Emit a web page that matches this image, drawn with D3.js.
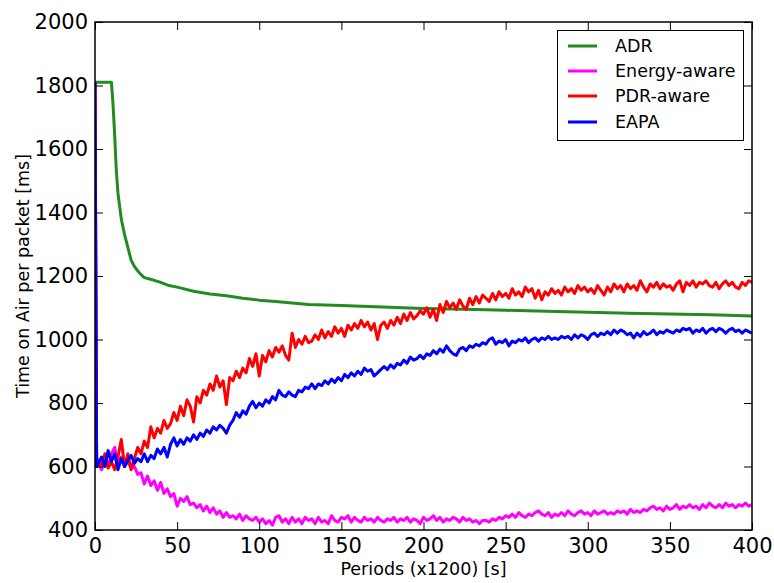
<!DOCTYPE html>
<html><head><meta charset="utf-8">
<script src="https://cdn.jsdelivr.net/npm/d3@7"></script>
<style>body{margin:0;background:#fff}svg{display:block}text{font-family:"DejaVu Sans",sans-serif}</style>
</head><body>
<script>
const seriesNames = ["ADR","Energy-aware","PDR-aware","EAPA"];
const seriesColors = ["#228B22","#FF00FF","#FF0000","#0000FF"];
const xTicks = [0,50,100,150,200,250,300,350,400];
const yTicks = [400,600,800,1000,1200,1400,1600,1800,2000];

const adrPeriods = [0,10,11,12,13,14,16,18,20,22,24,27,30,35,40,45,50,60,70,80,90,100,110,120,130,150,175,200,225,250,275,300,325,350,375,400];
const adrValues  = [1810,1810,1740,1640,1530,1460,1380,1330,1290,1250,1230,1210,1195,1188,1180,1170,1165,1152,1143,1138,1130,1124,1120,1115,1110,1107,1102,1098,1095,1092,1089,1086,1083,1080,1078,1074];

const noisyPeriods = [0,1].concat(d3.range(2,401,2));

const energyValues = [1810,600,
610,590,620,600,640,660,610,630,600,
615,595,600,575,580,545,570,540,555,525,
550,515,530,505,515,475,500,490,505,480,
485,470,480,460,475,455,470,450,460,440,
455,440,445,435,450,430,445,435,430,440,
425,435,420,430,415,440,445,425,435,420,
440,425,435,420,440,430,435,420,440,425,
430,420,445,430,425,440,435,445,425,440,
430,425,440,430,435,425,440,430,425,435,
430,440,425,435,430,440,425,435,430,420,
440,430,435,445,430,440,425,435,430,440,
435,425,440,430,435,425,430,420,430,430,
425,435,430,440,435,445,440,450,440,455,
445,440,450,445,455,460,450,445,455,440,
450,445,455,445,460,450,445,455,460,450,
455,445,460,450,455,460,450,455,450,460,
455,460,450,465,455,460,455,465,460,470,
475,465,470,460,475,465,470,480,465,475,
470,480,470,475,465,480,470,485,475,470,
480,470,485,475,480,470,480,475,485,475,
480];

const pdrValues = [1810,600,
620,600,640,595,615,590,630,685,600,
640,590,625,660,640,680,660,725,690,720,
705,745,720,735,770,745,790,760,810,790,
740,820,800,840,825,860,840,885,850,870,
795,880,870,900,880,910,895,940,915,955,
885,950,930,965,945,975,960,980,950,935,
1020,975,1000,985,1010,990,995,1015,1000,1030,
1005,1025,1010,1040,1020,1035,1010,1045,1030,1050,
1035,1060,1040,1055,1030,1050,1000,1045,1055,1035,
1060,1045,1070,1050,1080,1060,1085,1065,1075,1090,
1080,1100,1070,1095,1060,1110,1085,1120,1100,1115,
1095,1125,1105,1095,1130,1110,1135,1115,1140,1130,
1120,1145,1125,1150,1135,1145,1130,1160,1140,1150,
1135,1165,1150,1160,1130,1155,1125,1150,1140,1160,
1145,1155,1140,1165,1150,1160,1145,1170,1155,1165,
1150,1160,1145,1170,1155,1140,1165,1150,1175,1160,
1170,1150,1175,1160,1170,1155,1185,1165,1150,1175,
1165,1180,1160,1175,1165,1170,1155,1175,1185,1150,
1180,1170,1185,1165,1180,1175,1185,1170,1165,1180,
1160,1175,1185,1170,1180,1165,1160,1180,1170,1185,
1180];

const eapaValues = [1810,600,
610,630,600,650,615,640,590,625,600,
620,635,610,625,615,640,615,635,625,655,
640,660,630,670,690,665,685,670,690,680,
700,685,705,695,715,705,725,715,730,720,
705,730,745,770,755,775,765,790,805,785,
800,790,810,800,820,810,840,825,820,835,
825,820,840,835,850,845,860,845,860,855,
870,860,875,865,880,870,890,880,895,885,
900,890,910,900,905,885,895,905,915,905,
920,910,925,920,935,925,945,935,940,950,
940,955,950,965,955,970,960,980,965,955,
950,970,975,965,980,975,985,980,990,985,
1000,1005,985,995,990,1000,980,995,990,1000,
995,1005,990,1000,1005,995,1005,1000,1010,1000,
1005,1000,1010,1005,1010,1000,1015,1005,1015,1010,
1000,1015,1020,1010,1020,1015,1025,1015,1030,1020,
1030,1025,1015,1020,1005,1020,1010,1025,1015,1020,
1030,1015,1025,1020,1030,1025,1020,1030,1025,1035,
1030,1035,1020,1030,1025,1035,1020,1030,1035,1025,
1035,1030,1020,1030,1035,1025,1030,1020,1030,1025,
1020];

const W = 774, H = 583;
const m = {left:95, right:22, top:22, bottom:53};
const iw = W - m.left - m.right, ih = H - m.top - m.bottom;

const svg = d3.select("body").append("svg").attr("width",W).attr("height",H);
const x = d3.scaleLinear().domain([0,400]).range([m.left, m.left+iw]);
const y = d3.scaleLinear().domain([400,2000]).range([m.top+ih, m.top]);

svg.append("clipPath").attr("id","clip").append("rect")
  .attr("x",m.left).attr("y",m.top).attr("width",iw).attr("height",ih);

const series = [
  {name:seriesNames[0], color:seriesColors[0], xs:adrPeriods, ys:adrValues},
  {name:seriesNames[1], color:seriesColors[1], xs:noisyPeriods, ys:energyValues},
  {name:seriesNames[2], color:seriesColors[2], xs:noisyPeriods, ys:pdrValues},
  {name:seriesNames[3], color:seriesColors[3], xs:noisyPeriods, ys:eapaValues}
];
const line = d3.line().x(d=>x(d[0])).y(d=>y(d[1]));
const g = svg.append("g").attr("clip-path","url(#clip)");
series.forEach(s=>{
  g.append("path").datum(s.xs.map((p,i)=>[p,s.ys[i]]))
    .attr("fill","none").attr("stroke",s.color).attr("stroke-width",3)
    .attr("stroke-linejoin","round").attr("d",line);
});

const tl = 8;
const fsTick = 21;
const ax = svg.append("g").attr("transform",`translate(0,${m.top+ih})`)
  .call(d3.axisBottom(x).tickValues(xTicks).tickSize(-tl).tickPadding(8).tickFormat(d3.format("d")));
const axT = svg.append("g").attr("transform",`translate(0,${m.top})`)
  .call(d3.axisTop(x).tickValues(xTicks).tickSize(-tl).tickFormat(""));
const ay = svg.append("g").attr("transform",`translate(${m.left},0)`)
  .call(d3.axisLeft(y).tickValues(yTicks).tickSize(-tl).tickPadding(7).tickFormat(d3.format("d")));
const ayR = svg.append("g").attr("transform",`translate(${m.left+iw},0)`)
  .call(d3.axisRight(y).tickValues(yTicks).tickSize(-tl).tickFormat(""));
[ax,axT,ay,ayR].forEach(a=>{
  a.selectAll(".domain").remove();
  a.selectAll(".tick line").attr("stroke","#000").attr("stroke-width",1);
  a.selectAll("text").attr("font-size",fsTick).attr("fill","#000").attr("font-family","DejaVu Sans");
});
svg.append("rect").attr("x",m.left).attr("y",m.top).attr("width",iw).attr("height",ih)
  .attr("fill","none").attr("stroke","#000").attr("stroke-width",1.5);

svg.append("text").attr("x",m.left+iw/2).attr("y",575).attr("text-anchor","middle")
  .attr("font-size",17.5).text("Periods (x1200) [s]");
svg.append("text").attr("transform",`translate(29,${m.top+ih/2}) rotate(-90)`).attr("text-anchor","middle")
  .attr("font-size",17.5).text("Time on Air per packet [ms]");

const lg = svg.append("g");
lg.append("rect").attr("x",557.5).attr("y",30.5).attr("width",186).attr("height",110)
  .attr("fill","#fff").attr("stroke","#000").attr("stroke-width",1);
const ly = [46,71,96,122];
series.forEach((s,i)=>{
  lg.append("line").attr("x1",568).attr("x2",597).attr("y1",ly[i]).attr("y2",ly[i])
    .attr("stroke",s.color).attr("stroke-width",3);
  lg.append("text").attr("x",615).attr("y",ly[i]).attr("dy","0.36em").attr("font-size",17.5).text(s.name);
});
</script>
</body></html>
